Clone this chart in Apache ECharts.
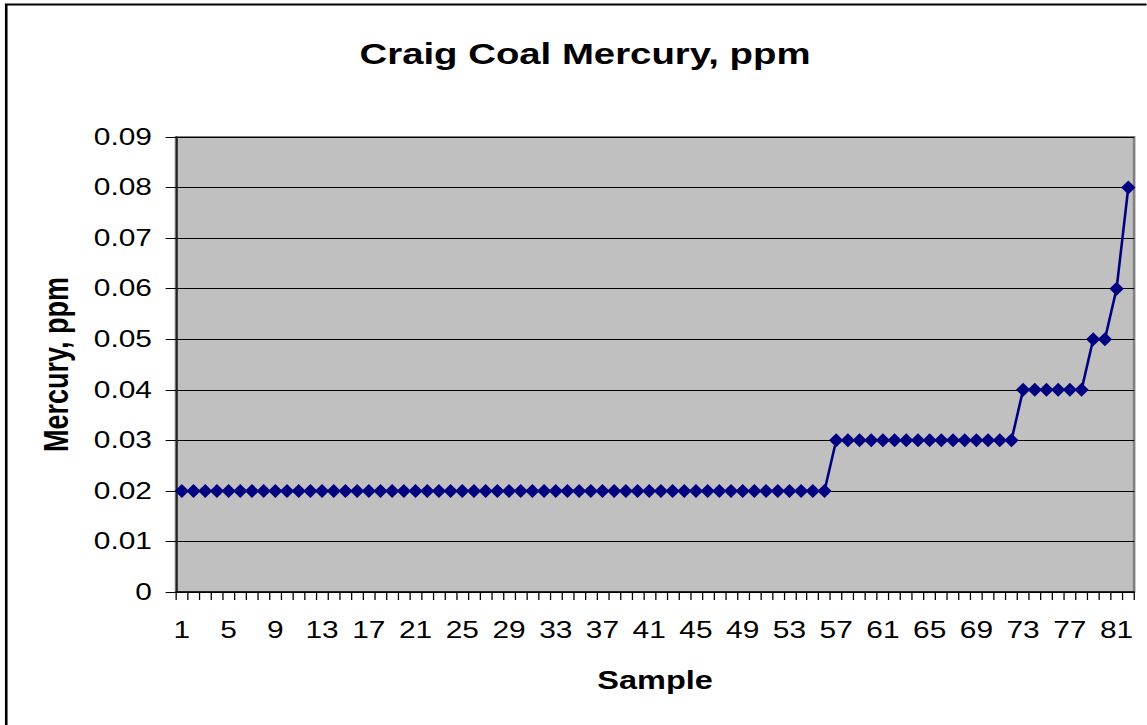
<!DOCTYPE html>
<html>
<head>
<meta charset="utf-8">
<script src="https://cdn.jsdelivr.net/npm/echarts@6/dist/echarts.min.js"></script>
<style>
  html, body { margin: 0; padding: 0; background: #fff; overflow: hidden; }
  /* the source picture is stretched sideways, so draw narrow and widen */
  #chart { width: 882px; height: 725px; transform: scaleX(1.3); transform-origin: 0 0; }
</style>
</head>
<body>
<div id="chart"></div>
<script>
// samples 1..82
var samples = [];
for (var i = 1; i <= 82; i++) samples.push(String(i));

// mercury values, ppm
var mercury = [
  0.02, 0.02, 0.02, 0.02, 0.02, 0.02, 0.02, 0.02, 0.02, 0.02,
  0.02, 0.02, 0.02, 0.02, 0.02, 0.02, 0.02, 0.02, 0.02, 0.02,
  0.02, 0.02, 0.02, 0.02, 0.02, 0.02, 0.02, 0.02, 0.02, 0.02,
  0.02, 0.02, 0.02, 0.02, 0.02, 0.02, 0.02, 0.02, 0.02, 0.02,
  0.02, 0.02, 0.02, 0.02, 0.02, 0.02, 0.02, 0.02, 0.02, 0.02,
  0.02, 0.02, 0.02, 0.02, 0.02, 0.02,
  0.03, 0.03, 0.03, 0.03, 0.03, 0.03, 0.03, 0.03, 0.03, 0.03,
  0.03, 0.03, 0.03, 0.03, 0.03, 0.03,
  0.04, 0.04, 0.04, 0.04, 0.04, 0.04,
  0.05, 0.05,
  0.06,
  0.08
];

var chart = echarts.init(document.getElementById('chart'), null, { renderer: 'svg' });

var font = 'Liberation Sans, Arial, sans-serif';

var option = {
    backgroundColor: '#ffffff',
    animation: false,
    title: {
        text: 'Craig Coal Mercury, ppm',
        left: 445,
        textAlign: 'center',
        top: 34,
        textStyle: { fontFamily: font, fontSize: 29.5, fontWeight: 'bold', color: '#000' }
    },
    graphic: [{
        type: 'rect',
        shape: { x: 4.8, y: 4.5, width: 900, height: 740 },
        style: { fill: null, stroke: '#000', lineWidth: 2 },
        silent: true
    }],
    grid: {
        left: 135.4,
        top: 137,
        width: 737,
        height: 455,
        show: true,
        backgroundColor: '#c0c0c0',
        borderColor: '#808080',
        borderWidth: 2
    },
    xAxis: {
        type: 'category',
        data: samples,
        boundaryGap: true,
        name: 'Sample',
        nameLocation: 'middle',
        nameGap: 76,
        nameTextStyle: { fontFamily: font, fontSize: 25, fontWeight: 'bold', color: '#000' },
        axisLine: { lineStyle: { color: '#000', width: 1.5 } },
        axisTick: { show: true, interval: 0, length: 8, lineStyle: { color: '#000' } },
        axisLabel: { interval: 3, margin: 27, fontFamily: font, fontSize: 23, color: '#000' },
        splitLine: { show: false }
    },
    yAxis: {
        type: 'value',
        min: 0,
        max: 0.09,
        interval: 0.01,
        name: 'Mercury, ppm',
        nameLocation: 'middle',
        nameGap: 79,
        nameTextStyle: { fontFamily: font, fontSize: 27, fontWeight: 'bold', color: '#000' },
        axisLine: { show: true, lineStyle: { color: '#222', width: 1.5 } },
        axisTick: { show: true, length: 8, lineStyle: { color: '#000' } },
        axisLabel: {
            margin: 18.5,
            fontFamily: font,
            fontSize: 23,
            color: '#000',
            formatter: function (v) { return v === 0 ? '0' : v.toFixed(2); }
        },
        splitLine: { show: true, lineStyle: { color: '#000', width: 1 } }
    },
    series: [{
        name: 'Mercury',
        type: 'line',
        data: mercury,
        showAllSymbol: true,
        symbol: 'diamond',
        symbolSize: [11, 14],
        itemStyle: { color: '#000080' },
        lineStyle: { color: '#000080', width: 2 }
    }]
};

chart.setOption(option);
</script>
</body>
</html>
